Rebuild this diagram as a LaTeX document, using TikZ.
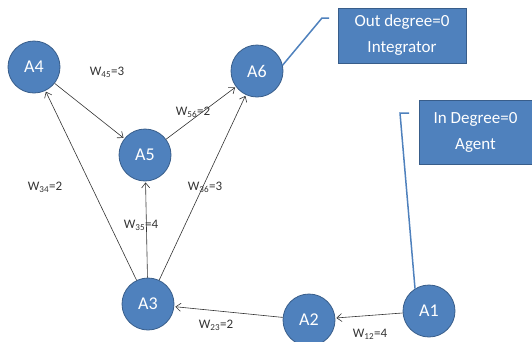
\documentclass[tikz,border=0pt]{standalone}
\usepackage{fontspec}
\setmainfont{Carlito}
\usetikzlibrary{arrows.meta}
\definecolor{nodeblue}{RGB}{79,129,189}
\definecolor{rimblue}{RGB}{56,93,138}

\begin{document}
\begin{tikzpicture}[x=1pt,y=-1pt,shorten >=1pt,>={Straight Barb[length=5pt,width=8pt]}]
	\tikzstyle{agent}=[circle,fill=nodeblue,draw=rimblue,line width=0.8pt,minimum size=52pt,inner sep=0pt,text=white,font=\fontsize{18}{18}\selectfont]
	\tikzstyle{callout}=[rectangle,fill=nodeblue,draw=rimblue,line width=0.8pt,text=white,align=center,inner sep=0pt,font=\fontsize{17}{26}\selectfont]
	\tikzstyle{weight}=[inner sep=1pt,text=black!80,font=\fontsize{13}{13}\selectfont]
	\useasboundingbox (0,0) rectangle (532,341);

	\node[agent] (A4) at (34,67) {A4};
	\node[agent] (A6) at (257,71) {A6};
	\node[agent] (A5) at (145,155) {A5};
	\node[agent] (A3) at (148,304) {A3};
	\node[agent] (A2) at (309,320) {A2};
	\node[agent] (A1) at (429,311) {A1};

	\node[callout,minimum width=128pt,minimum height=55pt] (Out) at (402,35.5) {Out degree=0\\Integrator};
	\node[callout,minimum width=113pt,minimum height=64pt] (In) at (475.5,132) {In Degree=0\\Agent};

	\node[weight] (w45) at (107,72) {W\textsubscript{45}=3};
	\node[weight] (w56) at (193,112) {W\textsubscript{56}=2};
	\node[weight] (w34) at (45,187) {W\textsubscript{34}=2};
	\node[weight] (w35) at (141,225) {W\textsubscript{35}=4};
	\node[weight] (w36) at (205,187) {W\textsubscript{36}=3};
	\node[weight] (w23) at (216,325) {W\textsubscript{23}=2};
	\node[weight] (w12) at (370,334) {W\textsubscript{12}=4};

	\coordinate (OutA) at (322,18);
	\coordinate (OutB) at (330,18);
	\coordinate (InA) at (400,113);
	\coordinate (InB) at (410,113);

	\path[->,draw=black!80,line width=0.6pt]
		(A4) edge (A5)
		(A5) edge (A6)
		(A3) edge (A4)
		(A3) edge (A5)
		(A3) edge (A6)
		(A2) edge (A3)
		(A1) edge (A2);

	\draw[nodeblue,line width=1.5pt] (A6.13) -- (OutA) -- (OutB);
	\draw[nodeblue,line width=1.5pt] (A1.122) -- (InA) -- (InB);
\end{tikzpicture}
\end{document}
